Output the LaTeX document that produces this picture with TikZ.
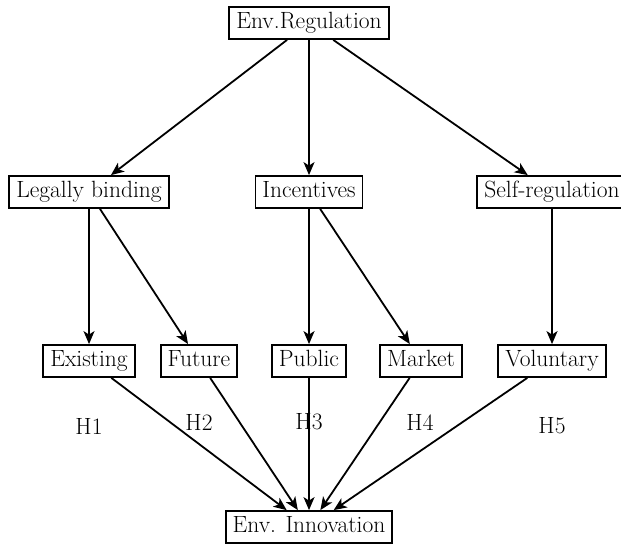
\documentclass[tikz,border=0pt]{standalone}
\usetikzlibrary{arrows.meta}
\begin{document}
\begin{tikzpicture}[x=1pt,y=-1pt,
  box/.style={draw, line width=1.8pt, inner xsep=7pt, inner ysep=5.5pt,
    text height=16pt, text depth=5pt, font=\fontsize{23.5}{28}\selectfont},
  lbl/.style={font=\fontsize{23.5}{28}\selectfont, inner sep=0pt},
  arr/.style={line width=1.8pt, -{Stealth[length=13pt,width=11pt,inset=3.5pt]}}]
\useasboundingbox (0,0) rectangle (621,547);
\node[box] (reg) at (309,23) {Env.Regulation};
\node[box] (leg) at (89,192) {Legally binding};
\node[box] (inc) at (309,192) {Incentives};
\node[box] (self) at (552,192) {Self-regulation};
\node[box] (ex) at (89,361) {Existing};
\node[box] (fut) at (199,361) {Future};
\node[box] (pub) at (309,361) {Public};
\node[box] (mar) at (421,361) {Market};
\node[box] (vol) at (552,361) {Voluntary};
\node[box] (inn) at (309,527) {Env. Innovation};
\node[lbl] (h1) at (89,426) {H1};
\node[lbl] (h2) at (199,422) {H2};
\node[lbl] (h3) at (309,422) {H3};
\node[lbl] (h4) at (420,422) {H4};
\node[lbl] (h5) at (552,426) {H5};
\draw[arr] (reg) -- (leg);
\draw[arr] (reg) -- (inc);
\draw[arr] (reg) -- (self);
\draw[arr] (leg) -- (ex);
\draw[arr] (leg) -- (fut);
\draw[arr] (inc) -- (pub);
\draw[arr] (inc) -- (mar);
\draw[arr] (self) -- (vol);
\draw[arr] (ex) -- (inn);
\draw[arr] (fut) -- (inn);
\draw[arr] (pub) -- (inn);
\draw[arr] (mar) -- (inn);
\draw[arr] (vol) -- (inn);
\end{tikzpicture}
\end{document}
